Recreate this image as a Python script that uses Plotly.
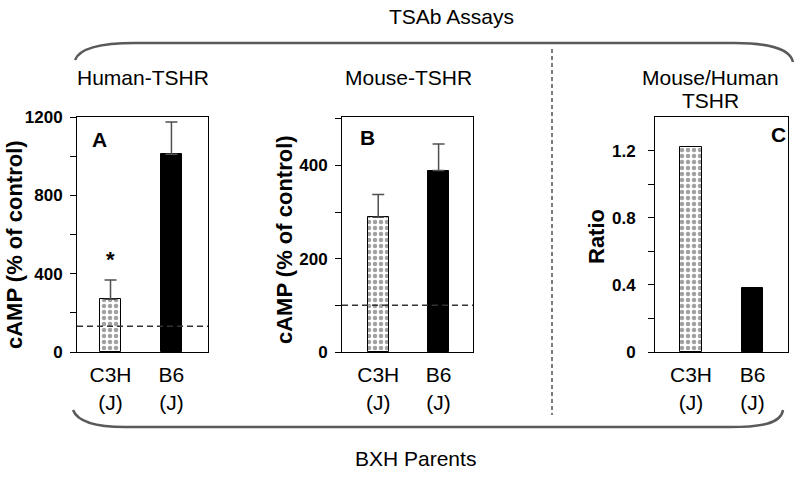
import plotly.graph_objects as go

W, H = 800, 477

# ---- data ----
categories = ["C3H<br>(J)", "B6<br>(J)"]
human_vals = [269, 1010]
human_err = [99, 165]
human_control = 131
mouse_vals = [289, 389]
mouse_err = [49, 57]
mouse_control = 100
ratio_vals = [1.22, 0.384]

panel_titles = ["Human-TSHR", "Mouse-TSHR", "Mouse/Human", "TSHR"]
panel_letters = ["A", "B", "C"]
ytitles = ["cAMP (% of control)", "cAMP (% of control)", "Ratio"]

FONT = "Liberation Sans, Arial, sans-serif"


def px(x):
    return x / W


def py(y):
    return 1 - y / H


def P(x, y):
    return f"{px(x):.5f},{py(y):.5f}"


ydom = [py(352), py(117)]
xdoms = [[px(77), px(208)], [px(342), px(473)], [px(655), px(788)]]
xranges = [[-0.55, 1.6], [-0.6, 1.57], [-0.585, 1.577]]

fig = go.Figure()

bar_colors = ["white", "black"]
patterns = [".", ""]


def add_bars(vals, err, idx):
    xa = "x" if idx == 0 else f"x{idx+1}"
    ya = "y" if idx == 0 else f"y{idx+1}"
    ekw = {}
    if err is not None:
        ekw = dict(error_y=dict(type="data", array=err, arrayminus=[0] * len(err),
                                symmetric=False, color="#505050", thickness=1.5, width=6))
    fig.add_trace(go.Bar(
        x=categories, y=vals, xaxis=xa, yaxis=ya, width=0.35,
        marker=dict(color=bar_colors, line=dict(color="black", width=1),
                    pattern=dict(shape=patterns, fgcolor="black", bgcolor="white",
                                 size=6, solidity=0.45)),
        showlegend=False, **ekw))


add_bars(human_vals, human_err, 0)
add_bars(mouse_vals, mouse_err, 1)
add_bars(ratio_vals, None, 2)

yaxis_common = dict(showline=True, linecolor="black", linewidth=1, mirror=True,
                    ticks="outside", ticklen=6, tickcolor="black", showgrid=False,
                    zeroline=False, domain=ydom, automargin=False,
                    tickfont=dict(family=FONT, size=17, color="black", weight="bold"))
xaxis_common = dict(showline=True, linecolor="black", linewidth=1, mirror=True,
                    ticks="", showgrid=False, zeroline=False, type="category",
                    automargin=False,
                    tickfont=dict(family=FONT, size=21, color="black"),
                    ticklabelstandoff=4)

fig.update_layout(
    width=W, height=H, margin=dict(l=0, r=0, t=0, b=0, pad=0, autoexpand=False),
    paper_bgcolor="white", plot_bgcolor="white", bargap=0,
    xaxis=dict(domain=xdoms[0], range=xranges[0], anchor="y", **xaxis_common),
    xaxis2=dict(domain=xdoms[1], range=xranges[1], anchor="y2", **xaxis_common),
    xaxis3=dict(domain=xdoms[2], range=xranges[2], anchor="y3", **xaxis_common),
    yaxis=dict(range=[0, 1200], tickvals=[0, 200, 400, 600, 800, 1000, 1200],
               ticktext=["0", "", "400", "", "800", "", "1200"], anchor="x",
               ticklabelstandoff=4, **yaxis_common),
    yaxis2=dict(range=[0, 504], tickvals=[0, 100, 200, 300, 400, 500],
                ticktext=["0", "", "200", "", "400", ""], anchor="x2",
                ticklabelstandoff=4, **yaxis_common),
    yaxis3=dict(range=[0, 1.4], tickvals=[0, 0.2, 0.4, 0.6, 0.8, 1.0, 1.2],
                ticktext=["0", "", "0.4", "", "0.8", "", "1.2"], anchor="x3",
                ticklabelstandoff=9, **yaxis_common),
)

# control dashed lines
for ctrl, xr, yr in [(human_control, "x domain", "y"), (mouse_control, "x2 domain", "y2")]:
    fig.add_shape(type="line", xref=xr, yref=yr, x0=0, x1=1, y0=ctrl, y1=ctrl,
                  line=dict(color="#333333", width=1.5, dash="6px,4px"))

# vertical dashed separator
fig.add_shape(type="line", xref="paper", yref="paper", x0=px(552), x1=px(552),
              y0=py(49), y1=py(415), line=dict(color="#505050", width=1.5, dash="4px,3px"))

# braces
top_brace = (f"M {P(75,60)} C {P(80,47)} {P(105,43)} {P(135,43)} L {P(735,43)} "
             f"C {P(765,43)} {P(790,48)} {P(793,62)}")
bot_brace = (f"M {P(73,410)} C {P(78,423)} {P(100,427)} {P(125,427)} L {P(730,427)} "
             f"C {P(760,427)} {P(781,424)} {P(783,410)}")
for path in (top_brace, bot_brace):
    fig.add_shape(type="path", xref="paper", yref="paper", path=path,
                  line=dict(color="#5a5a5a", width=2.5))

ann = []


def text(x, y, t, size=21, bold=False, angle=0):
    ann.append(dict(x=px(x), y=py(y), xref="paper", yref="paper", text=t,
                    showarrow=False, xanchor="center", yanchor="middle", textangle=angle,
                    font=dict(family=FONT, size=size, color="black",
                              weight="bold" if bold else "normal")))


text(452, 16, "TSAb Assays")
text(415, 458, "BXH Parents")
text(143, 77, panel_titles[0])
text(408, 77, panel_titles[1])
text(710, 77, panel_titles[2])
text(710, 100, panel_titles[3])
text(99, 139, panel_letters[0], size=21, bold=True)
text(367, 137, panel_letters[1], size=21, bold=True)
text(778, 135, panel_letters[2], size=21, bold=True)
text(15, 245, ytitles[0], size=22, bold=True, angle=-90)
text(284, 240, ytitles[1], size=22, bold=True, angle=-90)
text(596, 237, ytitles[2], size=22, bold=True, angle=-90)

# significance asterisk above C3H in panel A
ann.append(dict(x=categories[0], y=470, xref="x", yref="y", text="*", showarrow=False,
                yanchor="middle", font=dict(family=FONT, size=22, color="black", weight="bold")))

fig.update_layout(annotations=ann)
fig.write_html("out.html", config={"displayModeBar": False},
               post_script="document.body.style.margin='0';document.body.style.overflow='hidden';")
